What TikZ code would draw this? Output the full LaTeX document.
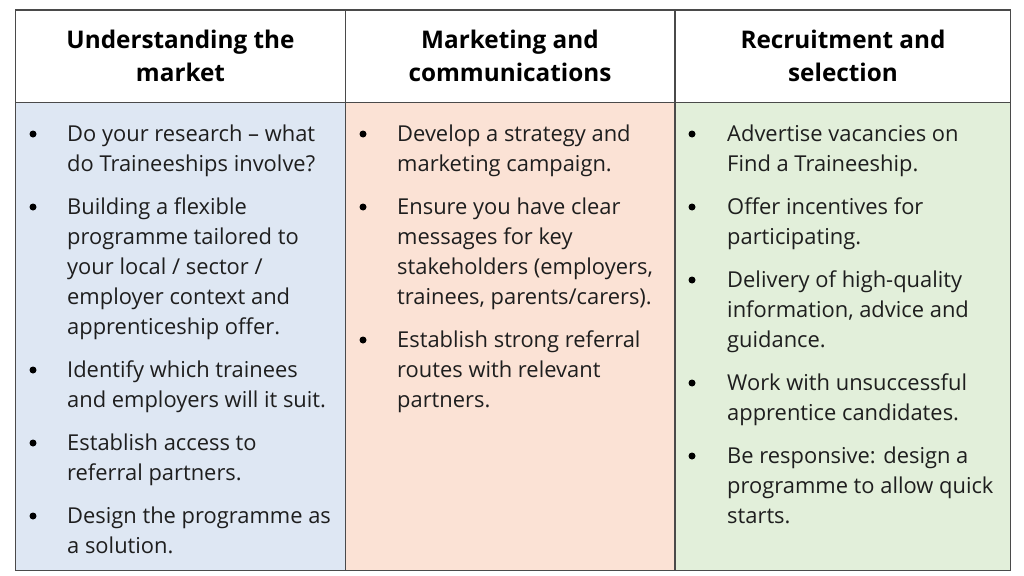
\documentclass[tikz,border=0pt]{standalone}
\usepackage{fontspec}
\setmainfont{Open Sans}
\definecolor{bluecell}{HTML}{DEE7F3}
\definecolor{orangecell}{HTML}{FBE2D5}
\definecolor{greencell}{HTML}{E2EFDA}
\definecolor{rulegray}{HTML}{4A4A4A}
\definecolor{txt}{HTML}{1E1E1E}
\tikzset{
  headtxt/.style={anchor=base, inner sep=0pt, text=black, font=\fontsize{24.3}{33}\selectfont\bfseries},
  bodytxt/.style={anchor=base west, inner sep=0pt, text=txt, font=\fontsize{21.9}{30}\selectfont},
  bul/.style={circle, fill=black, inner sep=0pt, minimum size=7pt},
  gridline/.style={draw=rulegray, line width=1.6pt},
}
\newcommand{\lines}[1]{\begin{tabular}[t]{@{}l@{}}#1\end{tabular}}
\newcommand{\hlines}[1]{\begin{tabular}[t]{@{}c@{}}#1\end{tabular}}
\begin{document}
\begin{tikzpicture}[x=1pt,y=-1pt]
\useasboundingbox[fill=white] (0,0) rectangle (1024,575);
% cells
\fill[bluecell] (15.5,102.5) rectangle (345.5,570.5);
\fill[orangecell] (345.5,102.5) rectangle (675,570.5);
\fill[greencell] (675,102.5) rectangle (1010.5,570.5);
% grid
\draw[gridline] (15.5,10) rectangle (1010.5,570.5);
\draw[gridline] (15.5,102.5) -- (1010.5,102.5);
\draw[gridline] (345.5,10) -- (345.5,570.5);
\draw[gridline] (675,10) -- (675,570.5);
% headers
\node[headtxt] (h1) at (180.5,49) {\hlines{Understanding the\\market}};
\node[headtxt] (h2) at (510,49) {\hlines{Marketing and\\communications}};
\node[headtxt] (h3) at (843,49) {\hlines{Recruitment and\\selection}};
% column 1
\node[bul] (b11) at (33,134) {};
\node[bodytxt] (t11) at (67,141) {\lines{Do your research – what\\do Traineeships involve?}};
\node[bul] (b12) at (33,207) {};
\node[bodytxt] (t12) at (67,214) {\lines{Building a flexible\\programme tailored to\\your local / sector /\\employer context and\\apprenticeship offer.}};
\node[bul] (b13) at (33,370) {};
\node[bodytxt] (t13) at (67,377) {\lines{Identify which trainees\\and employers will it suit.}};
\node[bul] (b14) at (33,443) {};
\node[bodytxt] (t14) at (67,450) {\lines{Establish access to\\referral partners.}};
\node[bul] (b15) at (33,516) {};
\node[bodytxt] (t15) at (67,523) {\lines{Design the programme as\\a solution.}};
% column 2
\node[bul] (b21) at (363,134) {};
\node[bodytxt] (t21) at (397,141) {\lines{Develop a strategy and\\marketing campaign.}};
\node[bul] (b22) at (363,207) {};
\node[bodytxt] (t22) at (397,214) {\lines{Ensure you have clear\\messages for key\\stakeholders (employers,\\trainees, parents/carers).}};
\node[bul] (b23) at (363,340) {};
\node[bodytxt] (t23) at (397,347) {\lines{Establish strong referral\\routes with relevant\\partners.}};
% column 3
\node[bul] (b31) at (692,134) {};
\node[bodytxt] (t31) at (727,141) {\lines{Advertise vacancies on\\Find a Traineeship.}};
\node[bul] (b32) at (692,207) {};
\node[bodytxt] (t32) at (727,214) {\lines{Offer incentives for\\participating.}};
\node[bul] (b33) at (692,280) {};
\node[bodytxt] (t33) at (727,287) {\lines{Delivery of high-quality\\information, advice and\\guidance.}};
\node[bul] (b34) at (692,383) {};
\node[bodytxt] (t34) at (727,390) {\lines{Work with unsuccessful\\apprentice candidates.}};
\node[bul] (b35) at (692,456) {};
\node[bodytxt] (t35) at (727,463) {\lines{Be responsive: design a\\programme to allow quick\\starts.}};
\end{tikzpicture}
\end{document}
